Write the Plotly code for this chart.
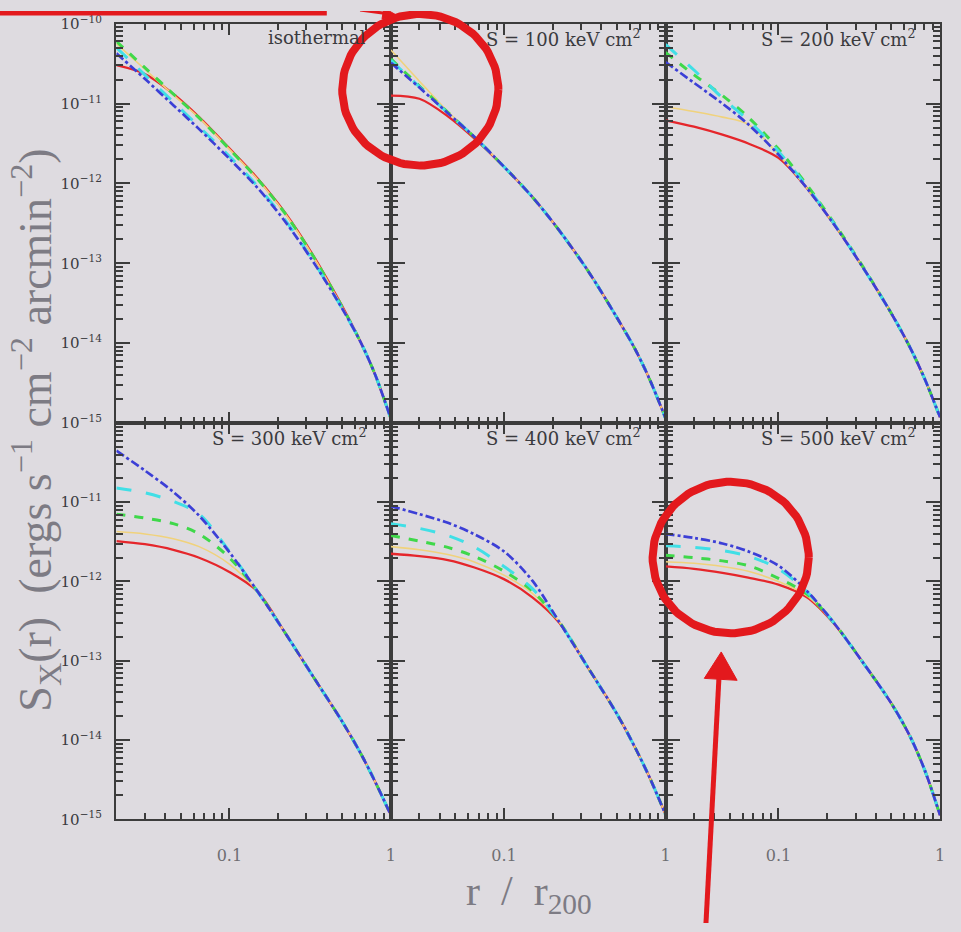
import numpy as np
import plotly.graph_objects as go
from plotly.subplots import make_subplots

# ---------------- data (log10 of S_X) ----------------
r_over_r200 = [0.02, 0.03, 0.045, 0.065, 0.1, 0.15, 0.22, 0.33, 0.5, 0.65, 0.8, 1.0]

panel_titles = ["isothermal",
                "S = 100 keV cm<sup>2</sup>",
                "S = 200 keV cm<sup>2</sup>",
                "S = 300 keV cm<sup>2</sup>",
                "S = 400 keV cm<sup>2</sup>",
                "S = 500 keV cm<sup>2</sup>"]

# panel 1: isothermal
iso_red    = [-10.52, -10.63, -10.88, -11.17, -11.56, -11.94, -12.36, -12.90, -13.54, -13.99, -14.40, -14.95]
iso_yellow = [-10.25, -10.57, -10.89, -11.18, -11.57, -11.95, -12.37, -12.91, -13.55, -13.99, -14.40, -14.95]
iso_green  = [-10.22, -10.55, -10.88, -11.18, -11.57, -11.95, -12.37, -12.91, -13.55, -13.99, -14.40, -14.95]
iso_cyan   = [-10.30, -10.64, -10.98, -11.29, -11.66, -12.04, -12.45, -12.97, -13.57, -13.99, -14.40, -14.95]
iso_blue   = [-10.37, -10.69, -11.02, -11.32, -11.69, -12.06, -12.47, -12.98, -13.57, -13.99, -14.40, -14.95]

# panel 2: S = 100
s100_red    = [-10.90, -10.94, -11.16, -11.43, -11.79, -12.17, -12.59, -13.09, -13.68, -14.08, -14.46, -14.94]
s100_yellow = [-10.33, -10.72, -11.10, -11.41, -11.79, -12.17, -12.59, -13.09, -13.68, -14.08, -14.46, -14.94]
s100_green  = [-10.44, -10.78, -11.11, -11.41, -11.79, -12.17, -12.59, -13.09, -13.68, -14.08, -14.46, -14.94]
s100_cyan   = [-10.46, -10.79, -11.12, -11.41, -11.79, -12.17, -12.59, -13.09, -13.68, -14.08, -14.46, -14.94]
s100_blue   = [-10.49, -10.80, -11.12, -11.41, -11.79, -12.17, -12.59, -13.09, -13.68, -14.08, -14.46, -14.94]

# panel 3: S = 200
s200_red    = [-11.21, -11.29, -11.39, -11.50, -11.68, -12.06, -12.51, -13.04, -13.63, -14.05, -14.44, -14.93]
s200_yellow = [-11.04, -11.10, -11.17, -11.26, -11.64, -12.06, -12.51, -13.04, -13.63, -14.05, -14.44, -14.93]
s200_green  = [-10.36, -10.64, -10.90, -11.17, -11.57, -12.02, -12.49, -13.03, -13.63, -14.05, -14.44, -14.93]
s200_cyan   = [-10.26, -10.58, -10.93, -11.21, -11.60, -12.04, -12.50, -13.04, -13.63, -14.05, -14.44, -14.93]
s200_blue   = [-10.48, -10.74, -11.00, -11.26, -11.64, -12.06, -12.51, -13.04, -13.63, -14.05, -14.44, -14.93]

# panel 4: S = 300
s300_red    = [-11.49, -11.53, -11.60, -11.70, -11.88, -12.13, -12.64, -13.20, -13.77, -14.17, -14.53, -14.95]
s300_yellow = [-11.37, -11.40, -11.46, -11.56, -11.78, -12.13, -12.64, -13.20, -13.77, -14.17, -14.53, -14.95]
s300_green  = [-11.15, -11.20, -11.27, -11.40, -11.70, -12.13, -12.64, -13.20, -13.77, -14.17, -14.53, -14.95]
s300_cyan   = [-10.82, -10.88, -10.99, -11.15, -11.62, -12.13, -12.64, -13.20, -13.77, -14.17, -14.53, -14.95]
s300_blue   = [-10.35, -10.60, -10.87, -11.17, -11.63, -12.13, -12.64, -13.20, -13.77, -14.17, -14.53, -14.95]

# panel 5: S = 400
s400_red    = [-11.65, -11.68, -11.73, -11.82, -11.97, -12.20, -12.52, -13.08, -13.67, -14.10, -14.48, -14.94]
s400_yellow = [-11.56, -11.60, -11.66, -11.75, -11.92, -12.15, -12.51, -13.08, -13.67, -14.10, -14.48, -14.94]
s400_green  = [-11.42, -11.49, -11.57, -11.68, -11.87, -12.12, -12.51, -13.08, -13.67, -14.10, -14.48, -14.94]
s400_cyan   = [-11.27, -11.33, -11.42, -11.56, -11.81, -12.09, -12.51, -13.08, -13.67, -14.10, -14.48, -14.94]
s400_blue   = [-11.05, -11.15, -11.26, -11.40, -11.62, -11.99, -12.51, -13.08, -13.67, -14.10, -14.48, -14.94]

# panel 6: S = 500
s500_red    = [-11.81, -11.84, -11.89, -11.95, -12.04, -12.20, -12.53, -13.01, -13.54, -13.95, -14.37, -14.95]
s500_yellow = [-11.75, -11.77, -11.81, -11.87, -12.00, -12.18, -12.52, -13.01, -13.54, -13.95, -14.37, -14.95]
s500_green  = [-11.67, -11.70, -11.74, -11.80, -11.96, -12.16, -12.52, -13.01, -13.54, -13.95, -14.37, -14.95]
s500_cyan   = [-11.55, -11.57, -11.61, -11.68, -11.84, -12.13, -12.52, -13.01, -13.54, -13.95, -14.37, -14.95]
s500_blue   = [-11.40, -11.45, -11.52, -11.62, -11.80, -12.12, -12.52, -13.01, -13.54, -13.95, -14.37, -14.95]

y_tick_exponents = [-10, -11, -12, -13, -14, -15]
x_tick_values = [0.1, 1.0]
x_tick_labels = ["0.1", "1"]

panels = [
    [iso_red, iso_yellow, iso_green, iso_cyan, iso_blue],
    [s100_red, s100_yellow, s100_green, s100_cyan, s100_blue],
    [s200_red, s200_yellow, s200_green, s200_cyan, s200_blue],
    [s300_red, s300_yellow, s300_green, s300_cyan, s300_blue],
    [s400_red, s400_yellow, s400_green, s400_cyan, s400_blue],
    [s500_red, s500_yellow, s500_green, s500_cyan, s500_blue],
]

# ---------------- styles ----------------
series_styles = [
    dict(color="#e5262b", width=2.3, dash="solid"),
    dict(color="#f0d27c", width=1.6, dash="solid"),
    dict(color="#3fd84a", width=3.0, dash="dash"),
    dict(color="#40dfe6", width=3.0, dash="longdash"),
    dict(color="#3c3fd6", width=2.7, dash="dashdot"),
]

BG = "#dedbe0"
AX = "#3c3c3c"
RED = "#e3191d"
NB = "\u00a0"

W, H = 961, 932
col_edges = [117, 393, 669, 945]      # pixel edges of the three columns
row_edges = [13, 421, 826]            # pixel edges of the two rows (top to bottom)

fig = make_subplots(rows=2, cols=3, horizontal_spacing=0, vertical_spacing=0)

for idx, series in enumerate(panels):
    row = idx // 3 + 1
    col = idx % 3 + 1
    for vals, st in zip(series, series_styles):
        fig.add_trace(go.Scatter(
            x=r_over_r200, y=[10.0 ** v for v in vals], mode="lines",
            line=dict(color=st["color"], width=st["width"], dash=st["dash"],
                      shape="spline", smoothing=0.9),
            showlegend=False, hoverinfo="skip"), row=row, col=col)

x_minor = [k * 0.01 for k in range(3, 10)] + [k * 0.1 for k in range(2, 10)]
y_minor = [k * 10.0 ** e for e in range(-15, -10) for k in range(2, 10)]

for idx in range(6):
    row = idx // 3 + 1
    col = idx % 3 + 1
    xdom = [col_edges[col - 1] / W, col_edges[col] / W]
    ydom = [1 - row_edges[row] / H, 1 - row_edges[row - 1] / H]
    xa = dict(type="log", range=[np.log10(0.02), 0.0], domain=xdom,
              showline=True, linecolor=AX, linewidth=2, mirror="allticks",
              ticks="inside", ticklen=11, tickwidth=2, tickcolor=AX,
              tickmode="array", tickvals=x_tick_values,
              ticktext=["<br>" + t for t in x_tick_labels],
              showticklabels=(row == 2),
              tickfont=dict(family="DejaVu Serif", size=16, color="#6e6e72"),
              minor=dict(tickmode="array", tickvals=x_minor, ticks="inside", ticklen=6,
                         tickwidth=1.5, tickcolor=AX, showgrid=False),
              showgrid=False, zeroline=False)
    yt = [10.0 ** e for e in y_tick_exponents]
    ytxt = ["10<sup>\u2212%d</sup>%s" % (-e, NB * 2) for e in y_tick_exponents]
    if row == 2:
        yt = yt[1:]
        ytxt = ytxt[1:]
    ya = dict(type="log", range=[-15, -10], domain=ydom,
              showline=True, linecolor=AX, linewidth=2, mirror="allticks",
              ticks="inside", ticklen=14, tickwidth=2, tickcolor=AX,
              tickmode="array", tickvals=yt, ticktext=ytxt,
              showticklabels=(col == 1),
              tickfont=dict(family="DejaVu Serif", size=15, color="#3a3a3e"),
              minor=dict(tickmode="array", tickvals=y_minor, ticks="inside", ticklen=7,
                         tickwidth=1.5, tickcolor=AX, showgrid=False),
              showgrid=False, zeroline=False)
    fig.update_xaxes(row=row, col=col, **xa)
    fig.update_yaxes(row=row, col=col, **ya)

# ---------------- red highlight overlay (pixel-space overlay axes) ----------------
def overlay_line(xs, ys, width, fill=False):
    fig.add_trace(go.Scatter(
        x=xs, y=ys, xaxis="x7", yaxis="y7", mode="lines",
        line=dict(color=RED, width=width),
        fill="toself" if fill else None, fillcolor=RED if fill else None,
        showlegend=False, hoverinfo="skip"))


def ellipse(cx, cy, rx, ry):
    t = np.linspace(0, 2 * np.pi, 121)
    return list(cx + rx * np.cos(t)), list(cy + ry * np.sin(t))


overlay_line([-10, 326, 326], [2, 2, -10], 5)                 # box corner, top left
overlay_line([362, 392], [-1, 3], 3)                           # small arrow at top
overlay_line([400, 386, 384, 400], [5, -3, 8, 5], 1, fill=True)
cx, cy = ellipse(422.5, 80.5, 78.5, 77.5)                      # circle, panel 2
overlay_line(cx, cy, 8)
cx, cy = ellipse(734.5, 558.5, 78.5, 77.5)                     # circle, panel 6
overlay_line(cx, cy, 8)
overlay_line([709, 723], [945, 676], 5)                        # arrow from below
overlay_line([725, 708, 741, 725], [655, 682, 684, 655], 1, fill=True)

# ---------------- annotations ----------------
axis_ids = ["", "2", "3", "4", "5", "6"]
annotations = []
for idx, txt in enumerate(panel_titles):
    a = axis_ids[idx]
    annotations.append(dict(
        text=txt, xref="x%s domain" % a, yref="y%s domain" % a,
        x=0.915, y=0.965, xanchor="right", yanchor="middle", showarrow=False,
        font=dict(family="DejaVu Serif", size=18, color="#3a3a3e")))

annotations.append(dict(
    text="S<sub>X</sub>(r)  (ergs s<sup>\u22121</sup> cm<sup>\u22122</sup> arcmin<sup>\u22122</sup>)",
    xref="paper", yref="paper", x=36 / W, y=1 - 428 / H, xanchor="center", yanchor="middle",
    textangle=-90, showarrow=False,
    font=dict(family="Liberation Serif", size=46, color="#7d7b84")))
annotations.append(dict(
    text="r " + NB + "/" + NB + " r<sub>200</sub>",
    xref="paper", yref="paper", x=532 / W, y=1 - 902 / H, xanchor="center", yanchor="middle",
    showarrow=False,
    font=dict(family="Liberation Serif", size=42, color="#7d7b84")))

fig.update_layout(
    width=W, height=H,
    margin=dict(l=0, r=0, t=0, b=0),
    paper_bgcolor=BG, plot_bgcolor="rgba(0,0,0,0)",
    xaxis7=dict(domain=[0, 1], anchor="y7", range=[0, W], visible=False, fixedrange=True),
    yaxis7=dict(domain=[0, 1], anchor="x7", range=[H, 0], visible=False, fixedrange=True),
    annotations=annotations,
    showlegend=False,
)

fig.write_html("out.html")
